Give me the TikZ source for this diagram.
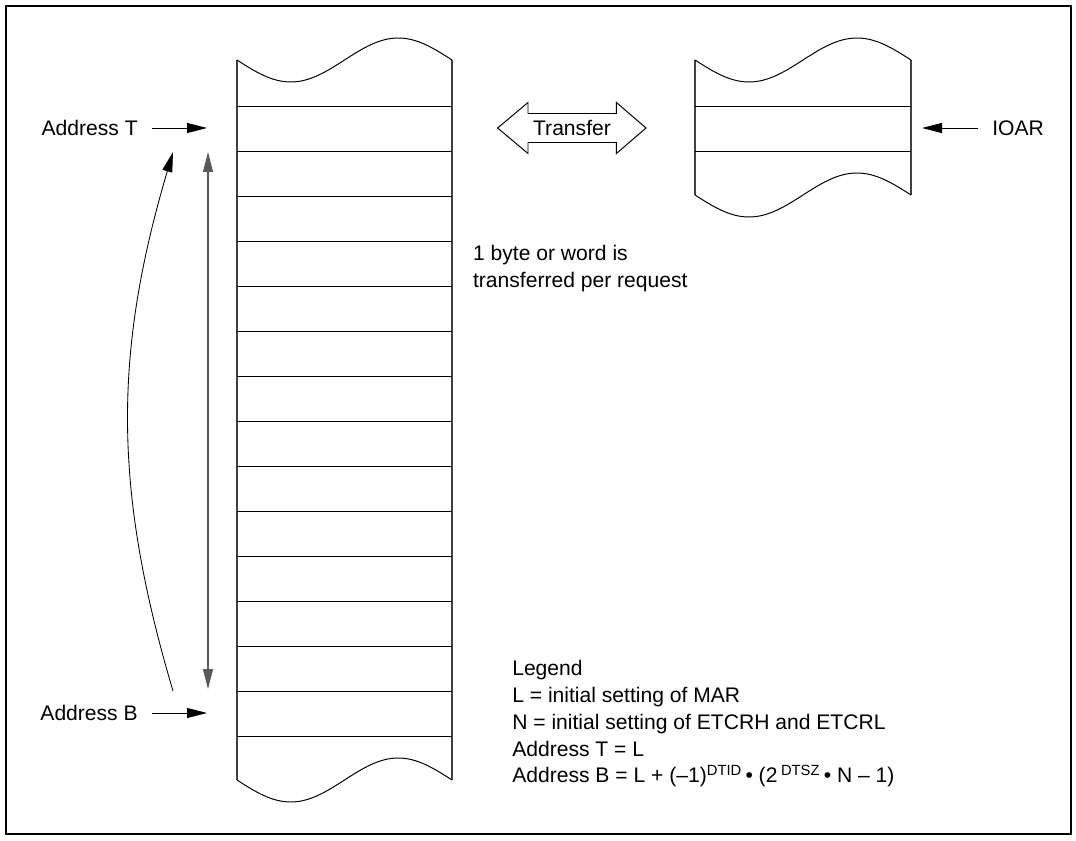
\documentclass[tikz,border=0pt]{standalone}
\usepackage{fontspec}
\setmainfont{Liberation Sans}
\usepackage{tikz}
\usetikzlibrary{arrows.meta}

\begin{document}
\begin{tikzpicture}[every node/.style={font=\fontsize{15pt}{19pt}\selectfont}, >={Triangle[length=5mm,width=2.5mm]}]
	\useasboundingbox (0,0) rectangle (26.9,21);
	\draw[line width=1.4pt] (0.15,0.15) rectangle (26.775,20.85);
	% memory area on the left
	\draw[line width=1pt, black!75] (5.925,19.5) -- (5.925,1.5);
	\draw[line width=1pt, black!75] (11.3,19.5) -- (11.3,1.5);
	\draw[line width=0.7pt] (5.925,19.5) sin ++(1.34375,-0.55) cos ++(1.34375,0.55) sin ++(1.34375,0.55) cos ++(1.34375,-0.55);
	\draw[line width=0.7pt] (5.925,1.5) sin ++(1.34375,-0.55) cos ++(1.34375,0.55) sin ++(1.34375,0.55) cos ++(1.34375,-0.55);
	\foreach \k in {0,...,14} {\draw[line width=0.7pt] (5.925,{18.35-1.125*\k}) -- (11.3,{18.35-1.125*\k});}
	% I/O register on the right
	\draw[line width=1pt, black!75] (17.375,19.5) -- (17.375,16.125);
	\draw[line width=1pt, black!75] (22.775,19.5) -- (22.775,16.125);
	\draw[line width=0.7pt] (17.375,19.5) sin ++(1.35,-0.55) cos ++(1.35,0.55) sin ++(1.35,0.55) cos ++(1.35,-0.55);
	\draw[line width=0.7pt] (17.375,16.125) sin ++(1.35,-0.55) cos ++(1.35,0.55) sin ++(1.35,0.55) cos ++(1.35,-0.55);
	\draw[line width=0.7pt] (17.375,18.35) -- (22.775,18.35);
	\draw[line width=0.7pt] (17.375,17.225) -- (22.775,17.225);
	% transfer arrow
	\draw[line width=0.7pt] (12.44,17.8) -- (13.2,18.4375) -- (13.2,18.1625) -- (15.41,18.1625) -- (15.41,18.4375) -- (16.15,17.8)
		-- (15.41,17.1625) -- (15.41,17.4375) -- (13.2,17.4375) -- (13.2,17.1625) -- cycle;
	\node (xfer) at (14.3,17.8) {Transfer};
	% labels and pointers
	\node[anchor=east, inner xsep=0.35cm] (addrT) at (3.8,17.8) {Address T};
	\node[anchor=east, inner xsep=0.35cm] (addrB) at (3.8,3.175) {Address B};
	\node[anchor=west, inner xsep=0.35cm] (ioar) at (24.45,17.8) {IOAR};
	\coordinate (tipT) at (5.175,17.8);
	\coordinate (tipB) at (5.175,3.175);
	\coordinate (tipI) at (23.05,17.8);
	\draw[->, line width=0.7pt] (addrT) -- (tipT);
	\draw[->, line width=0.7pt] (addrB) -- (tipB);
	\draw[->, line width=0.7pt] (ioar) -- (tipI);
	\coordinate (vtop) at (5.2,17.2);
	\coordinate (vbot) at (5.2,3.775);
	\coordinate (ctop) at (4.325,17.2);
	\coordinate (cbot) at (4.325,3.725);
	\draw[<->, line width=0.8pt, black!65] (vtop) -- (vbot);
	\draw[->, line width=0.6pt] (cbot) to[bend left=16.5] (ctop);
	\node[anchor=north west, inner sep=0pt, align=left] (perreq) at (11.82,14.87) {1 byte or word is\\transferred per request};
	\node[anchor=north west, inner sep=0pt, align=left] (legend) at (12.8,4.49) {Legend\\
		L = initial setting of MAR\\
		N = initial setting of ETCRH and ETCRL\\
		Address T = L\\
		Address B = L + (–1)\textsuperscript{DTID}\,\textbullet\ (2\,\textsuperscript{DTSZ}\,\textbullet\ N – 1)};
\end{tikzpicture}
\end{document}
